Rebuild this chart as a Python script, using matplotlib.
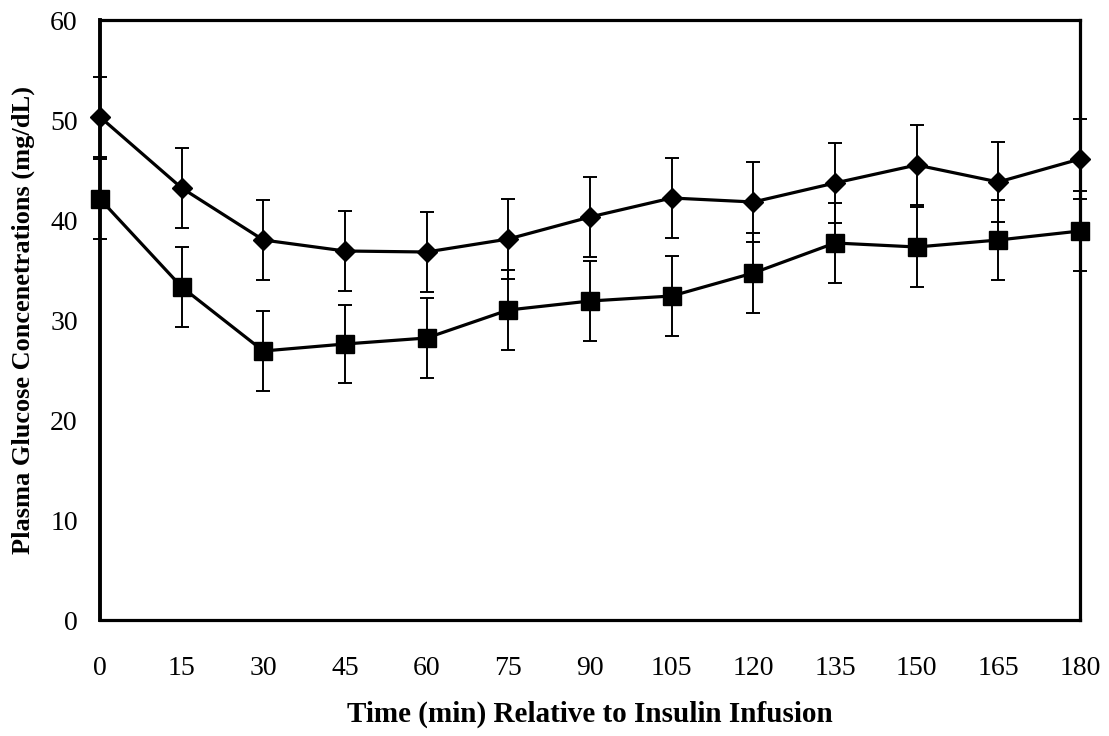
"""Plasma glucose concentrations relative to insulin infusion"""

import matplotlib

matplotlib.use("Agg")
from matplotlib import pyplot as plt

plt.rcParams["font.family"] = ["Liberation Serif", "DejaVu Serif"]

# time points (min)
time_min = [0, 15, 30, 45, 60, 75, 90, 105, 120, 135, 150, 165, 180]

# diamond series
diamond_mean = [50.3, 43.2, 38.0, 36.9, 36.8, 38.1, 40.3, 42.2, 41.8, 43.7, 45.5, 43.8, 46.1]
diamond_err = [4.0, 4.0, 4.0, 4.0, 4.0, 4.0, 4.0, 4.0, 4.0, 4.0, 4.0, 4.0, 4.0]

# square series
square_mean = [42.1, 33.3, 26.9, 27.6, 28.2, 31.0, 31.9, 32.4, 34.7, 37.7, 37.3, 38.0, 38.9]
square_err = [4.0, 4.0, 4.0, 3.9, 4.0, 4.0, 4.0, 4.0, 4.0, 4.0, 4.0, 4.0, 4.0]

x_ticks = list(range(0, 181, 15))
y_ticks = list(range(0, 61, 10))


def main():
    fig = plt.figure(figsize=(11.09, 7.36), dpi=100)
    axis = fig.add_axes([100 / 1109, 1 - 620 / 736, 980 / 1109, 600 / 736])

    for mean, err, marker, size in (
        (diamond_mean, diamond_err, "D", 10.5),
        (square_mean, square_err, "s", 12.5),
    ):
        bars = axis.errorbar(
            time_min,
            mean,
            yerr=err,
            color="black",
            linewidth=2.3,
            marker=marker,
            markersize=size,
            ecolor="black",
            elinewidth=1.4,
            capsize=5,
            capthick=1.4,
            zorder=3,
        )
        for artist in bars.lines[1] + bars.lines[2]:
            artist.set_clip_on(False)
        bars.lines[0].set_clip_on(False)

    axis.set_xlim(0, 180)
    axis.set_ylim(0, 60)
    axis.set_xticks(x_ticks)
    axis.set_yticks(y_ticks)
    axis.tick_params(axis="x", length=0, pad=26, labelsize=20)
    axis.tick_params(axis="y", length=0, pad=16, labelsize=20)
    for side, spine in axis.spines.items():
        spine.set_linewidth(2.3)
    axis.spines["left"].set_linewidth(2.8)

    axis.set_xlabel(
        "Time (min) Relative to Insulin Infusion",
        fontsize=21,
        fontweight="bold",
        labelpad=14,
    )
    axis.set_ylabel(
        "Plasma Glucose Concenetrations (mg/dL)",
        fontsize=19,
        fontweight="bold",
        labelpad=11,
    )

    fig.savefig("out.png", dpi=100)


if __name__ == "__main__":
    main()
